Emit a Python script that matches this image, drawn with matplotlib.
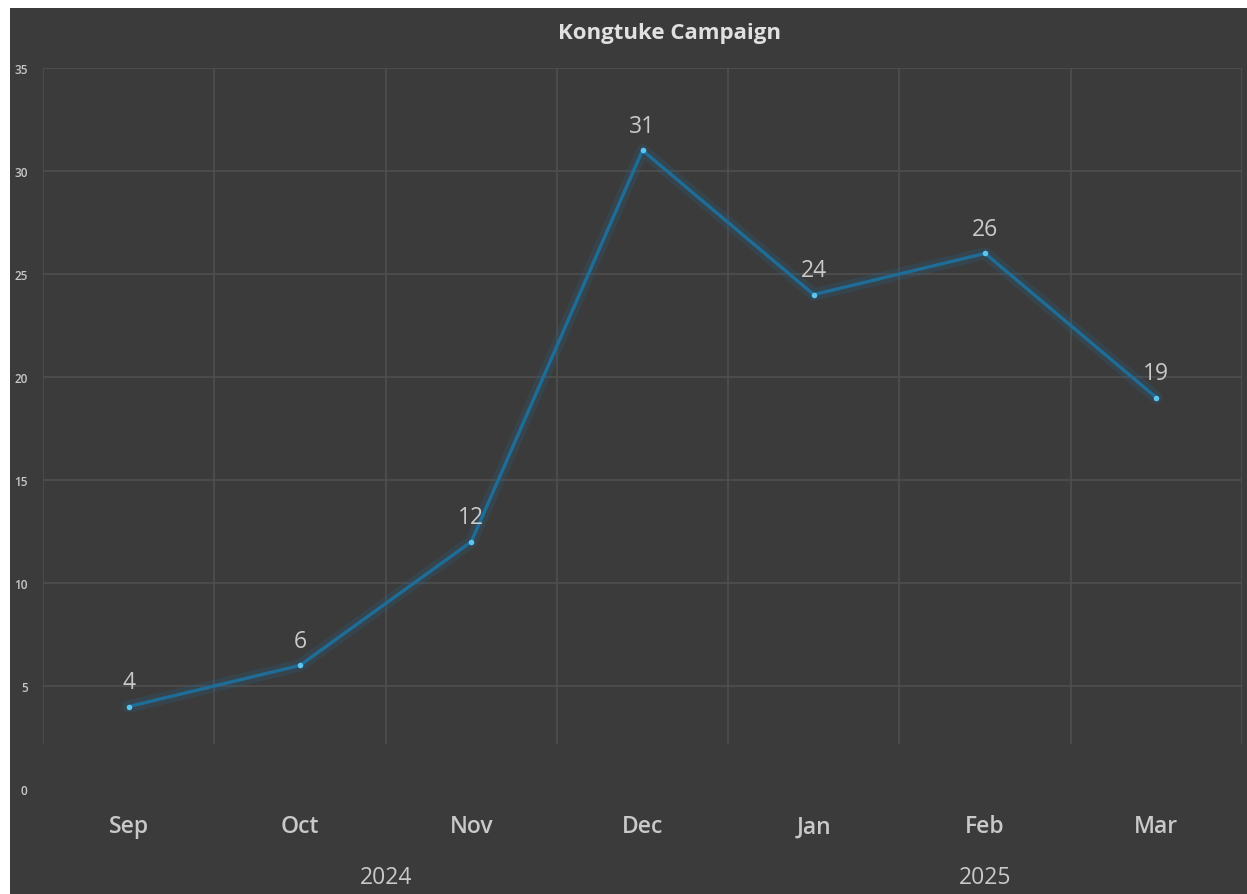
import matplotlib
matplotlib.use('Agg')
import matplotlib.pyplot as plt
from matplotlib.patches import Rectangle

# Chart data
months = ['Sep', 'Oct', 'Nov', 'Dec', 'Jan', 'Feb', 'Mar']
years = ['2024', '2025']
year_spans = [(0, 3), (4, 6)]  # first and last month index for each year
counts = [4, 6, 12, 31, 24, 26, 19]
y_ticks = [0, 5, 10, 15, 20, 25, 30, 35]

# Colours
bg = '#3b3b3b'
grid_col = '#4f4f4f'
text_col = '#c9c9c9'
line_col = '#1f6d96'
dot_col = '#5cc6f0'

plt.rcParams['font.family'] = ['Open Sans', 'DejaVu Sans']

W, H = 1247, 895
fig = plt.figure(figsize=(W / 100, H / 100), dpi=100, facecolor='white')
# dark panel leaving a thin white strip at the top and left
fig.patches.append(Rectangle((10 / W, 0), 1 - 10 / W, 1 - 9 / H,
                             transform=fig.transFigure, facecolor=bg,
                             edgecolor='none', zorder=-5))

ax_h = 790 - 69
ax = fig.add_axes([43 / W, (H - 790) / H, (1242 - 43) / W, ax_h / H])
ax.set_zorder(2)
ax.set_facecolor('none')
x = list(range(len(months)))
ax.set_xlim(-0.5, len(months) - 0.5)
ax.set_ylim(0, 35)

# gridlines
for yv in y_ticks[1:]:
    ax.axhline(yv, color=grid_col, lw=1.2, zorder=1)
for i in range(len(months) + 1):
    ax.vlines(i - 0.5, 2.2, 35, color=grid_col, lw=1.2, zorder=1)

for s in ax.spines.values():
    s.set_visible(False)

# glow + line
ax.plot(x, counts, color=line_col, lw=9, alpha=0.2, zorder=2, solid_capstyle='round')
ax.plot(x, counts, color=line_col, lw=2.4, zorder=3, solid_joinstyle='round')
ax.plot(x, counts, 'o', color=dot_col, ms=4, mec='none', zorder=4)

for xi, v in zip(x, counts):
    ax.annotate(str(v), (xi, v), xytext=(0, 17.5), textcoords='offset points',
                ha='center', va='center', fontsize=16.5, color=text_col)

ax.set_yticks(y_ticks)
ax.set_yticklabels([str(t) for t in y_ticks], fontsize=8.5, color=text_col,
                   fontweight='semibold')
ax.tick_params(axis='y', length=0, pad=11)
ax.set_xticks(x)
ax.set_xticklabels(months, fontsize=16.5, color=text_col, fontweight='semibold',
                   va='center')
ax.tick_params(axis='x', length=0, pad=27)

# year labels under the month groups
for yr, (a, b) in zip(years, year_spans):
    ax.text((a + b) / 2, -88 / ax_h, yr, transform=ax.get_xaxis_transform(),
            ha='center', va='center', fontsize=16.5, color=text_col)

fig.text(670 / W, 1 - 34 / H, 'Kongtuke Campaign', ha='center', va='center',
         fontsize=16, fontweight='bold', color='#e0e0e0')

fig.savefig('out.png', dpi=100, facecolor=fig.get_facecolor())
